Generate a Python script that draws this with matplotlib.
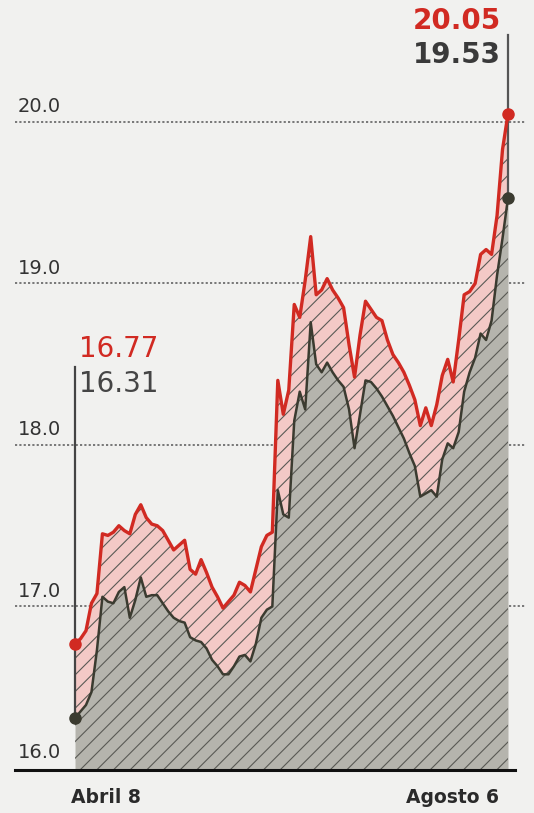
import matplotlib
matplotlib.use('Agg')
import matplotlib.pyplot as plt
import numpy as np

# precio maximo / minimo, Abril 8 -> Agosto 6 (dia habil)
maximo = [16.77, 16.80, 16.85, 17.02, 17.08, 17.45, 17.44, 17.46, 17.50, 17.47,
          17.45, 17.57, 17.63, 17.55, 17.51, 17.50, 17.47, 17.41, 17.35, 17.38,
          17.41, 17.23, 17.20, 17.29, 17.21, 17.12, 17.06, 16.99, 17.03, 17.07,
          17.15, 17.13, 17.09, 17.23, 17.37, 17.44, 17.46, 18.40, 18.19, 18.34,
          18.87, 18.79, 19.02, 19.29, 18.93, 18.96, 19.03, 18.96, 18.91, 18.85,
          18.62, 18.42, 18.68, 18.89, 18.84, 18.79, 18.77, 18.65, 18.56, 18.51,
          18.45, 18.37, 18.28, 18.12, 18.23, 18.12, 18.25, 18.43, 18.53, 18.39,
          18.65, 18.93, 18.95, 19.00, 19.18, 19.21, 19.18, 19.42, 19.83, 20.05]
minimo = [16.31, 16.35, 16.39, 16.47, 16.73, 17.06, 17.03, 17.02, 17.09, 17.12,
          16.93, 17.04, 17.18, 17.06, 17.07, 17.07, 17.02, 16.97, 16.93, 16.91,
          16.90, 16.81, 16.79, 16.78, 16.74, 16.67, 16.63, 16.58, 16.58, 16.63,
          16.69, 16.70, 16.66, 16.77, 16.93, 16.98, 17.00, 17.72, 17.57, 17.55,
          18.15, 18.33, 18.22, 18.76, 18.50, 18.45, 18.51, 18.45, 18.40, 18.36,
          18.22, 17.98, 18.19, 18.40, 18.39, 18.35, 18.30, 18.24, 18.18, 18.11,
          18.04, 17.95, 17.87, 17.68, 17.70, 17.72, 17.68, 17.91, 18.01, 17.98,
          18.08, 18.33, 18.45, 18.54, 18.69, 18.65, 18.77, 19.05, 19.28, 19.53]
yticks = [16.0, 17.0, 18.0, 19.0, 20.0]
xlabels = ['Abril 8', 'Agosto 6']

RED = '#d12a22'
DARK = '#3b3b30'
FONT = ['Liberation Sans Narrow', 'DejaVu Sans']

x = np.arange(len(maximo))
mx = np.array(maximo)
mn = np.array(minimo)

fig = plt.figure(figsize=(5.34, 8.13), dpi=100)
fig.patch.set_facecolor('#f1f1ef')
ax = fig.add_axes([15/534, 43/813, 510/534, 770/813])
ax.set_facecolor('none')
ax.set_xlim(-10.95, 82.1)
ax.set_ylim(15.9876, 20.755)
ax.axis('off')

# dotted gridlines
for v in yticks[1:]:
    ax.axhline(v, color='#6e6e6e', lw=1.3, ls=(0, (1.2, 1.2)), zorder=1)

# fills
ax.fill_between(x, 15.9876, mn, color='#b5b4ad', lw=0, zorder=2)
ax.fill_between(x, mn, mx, color='#f3c9c6', lw=0, zorder=2)
plt.rcParams['hatch.linewidth'] = 0.8
ax.fill_between(x, 15.9876, mx, facecolor='none', edgecolor='#5a5a55',
                hatch='//', lw=0, zorder=3)

ax.plot(x, mn, color=DARK, lw=1.8, zorder=4)
ax.plot(x, mx, color=RED, lw=2.4, zorder=5)

# start / end markers and leader lines
ax.plot([x[0], x[0]], [mn[0], 18.48], color='#444444', lw=1.6, zorder=3)
ax.plot([x[-1], x[-1]], [mn[-1], 20.54], color='#555555', lw=1.6, zorder=3)
for xi, yi, c in [(x[0], mx[0], RED), (x[0], mn[0], DARK),
                  (x[-1], mx[-1], RED), (x[-1], mn[-1], DARK)]:
    ax.plot(xi, yi, 'o', color=c, ms=8, zorder=6)

ax.annotate('%.2f' % maximo[0], xy=(x[0], 18.48), xytext=(3, 3),
            textcoords='offset points', color=RED, fontsize=20,
            family=FONT, ha='left', va='bottom')
ax.annotate('%.2f' % minimo[0], xy=(x[0], 18.48), xytext=(3, -22),
            textcoords='offset points', color='#454545', fontsize=20,
            family=FONT, ha='left', va='bottom')
ax.annotate('%.2f' % maximo[-1], xy=(x[-1], 20.54), xytext=(-5, 0),
            textcoords='offset points', color=RED, fontsize=20,
            family=FONT, fontweight='bold', ha='right', va='bottom')
ax.annotate('%.2f' % minimo[-1], xy=(x[-1], 20.54), xytext=(-5, -25),
            textcoords='offset points', color='#3a3a3a', fontsize=20,
            family=FONT, fontweight='bold', ha='right', va='bottom')

# y labels
for v in yticks:
    ax.annotate('%.1f' % v, xy=(0.005, v), xycoords=('axes fraction', 'data'),
                xytext=(0, 4), textcoords='offset points', fontsize=14,
                family=FONT, color='#333333', ha='left', va='bottom')

# base line
ax.plot([0, 500/510], [0, 0], transform=ax.transAxes, color='#111111',
        lw=2.2, clip_on=False, zorder=6)

# x labels
ax.annotate(xlabels[0], xy=(x[0], 15.9876), xytext=(22, -13),
            textcoords='offset points', fontsize=13.5, fontweight='bold',
            family=FONT, color='#2a2a2a', ha='center', va='top')
ax.annotate(xlabels[1], xy=(x[-1], 15.9876), xytext=(-40, -13),
            textcoords='offset points', fontsize=13.5, fontweight='bold',
            family=FONT, color='#2a2a2a', ha='center', va='top')

fig.savefig('out.png', dpi=100, facecolor=fig.get_facecolor())
